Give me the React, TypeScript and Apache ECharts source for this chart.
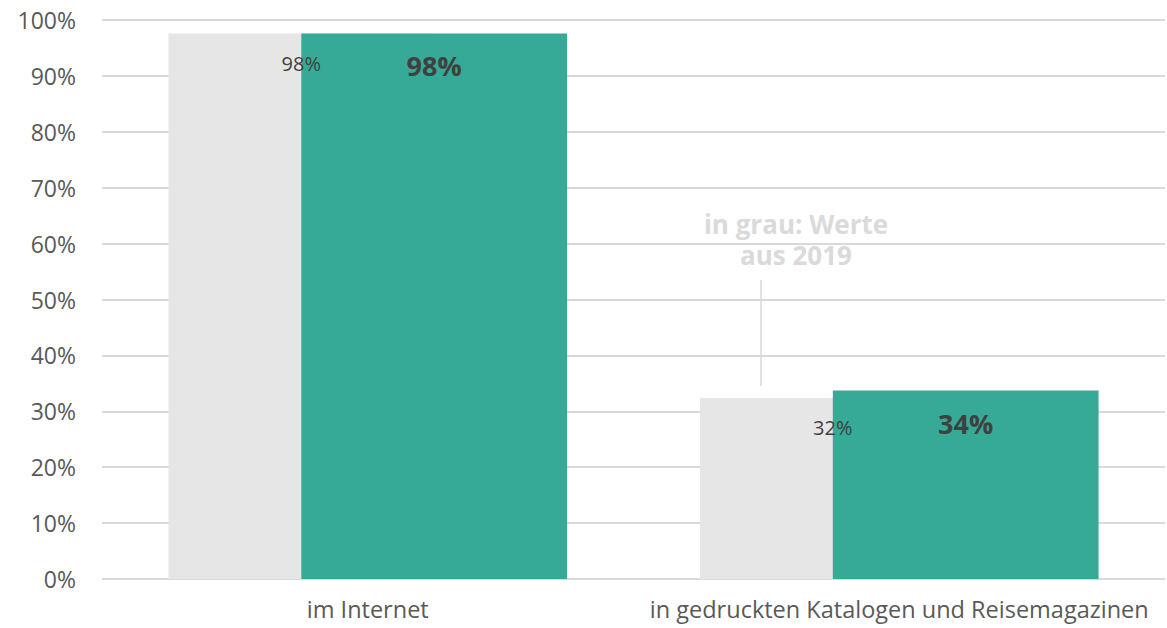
import React, { useEffect, useRef } from "react";
import * as echarts from "echarts";

const categories = ["im Internet", "in gedruckten Katalogen und Reisemagazinen"];
const values2019 = [97.6, 32.4];
const valuesNow = [97.6, 33.7];
const labelAnchor = [0, 0];
const yTicks = [0, 10, 20, 30, 40, 50, 60, 70, 80, 90, 100];
const noteLines = ["in grau: Werte", "aus 2019"];

const FONT = "'Open Sans', sans-serif";

export default function App() {
  const ref = useRef<HTMLDivElement>(null);
  useEffect(() => {
    if (!ref.current) return;
    const chart = echarts.init(ref.current, null, { renderer: "svg" });
    chart.setOption({
      animation: false,
      textStyle: { fontFamily: FONT },
      grid: { left: 102, right: 2, top: 20, bottom: 49, containLabel: false },
      xAxis: {
        type: "category",
        data: categories,
        axisLine: { show: false },
        axisTick: { show: false },
        axisLabel: {
          fontSize: 23.5,
          color: "#595959",
          fontFamily: FONT,
          margin: 18,
          interval: 0,
          hideOverlap: false,
        },
      },
      yAxis: {
        type: "value",
        min: yTicks[0],
        max: yTicks[yTicks.length - 1],
        interval: 10,
        axisLine: { show: false },
        axisTick: { show: false },
        splitLine: { lineStyle: { color: "#d9d9d9", width: 2 } },
        axisLabel: {
          fontSize: 23,
          color: "#595959",
          fontFamily: FONT,
          margin: 26,
          formatter: (v: number) => v + "%",
        },
      },
      series: [
        {
          name: "2019",
          type: "bar",
          stack: "old",
          data: values2019,
          barWidth: "50%",
          barGap: "-50%",
          itemStyle: { color: "#e6e6e6" },
          z: 1,
        },
        {
          name: "2019 label",
          type: "bar",
          stack: "old",
          data: labelAnchor,
          barWidth: "50%",
          itemStyle: { color: "rgba(0,0,0,0)" },
          z: 5,
          silent: true,
          label: {
            show: true,
            position: "insideTop",
            distance: 20,
            fontSize: 20,
            color: "#404040",
            fontFamily: FONT,
            formatter: (p: any) => Math.round(values2019[p.dataIndex]) + "%",
          },
        },
        {
          name: "2021",
          type: "bar",
          data: valuesNow,
          barWidth: "50%",
          barGap: "-50%",
          itemStyle: { color: "#36aa96" },
          z: 2,
          label: {
            show: true,
            position: "insideTop",
            distance: 19,
            fontSize: 27,
            fontWeight: "bold",
            color: "#404040",
            fontFamily: FONT,
            formatter: (p: any) => Math.round(p.value) + "%",
          },
        },
      ],
      graphic: [
        {
          type: "text",
          x: 796,
          y: 224,
          style: {
            text: noteLines[0],
            fill: "#dadada",
            font: "bold 26px 'Open Sans', sans-serif",
            align: "center",
            verticalAlign: "middle",
          },
          z: 10,
        },
        {
          type: "text",
          x: 796,
          y: 255,
          style: {
            text: noteLines[1],
            fill: "#dadada",
            font: "bold 26px 'Open Sans', sans-serif",
            align: "center",
            verticalAlign: "middle",
          },
          z: 10,
        },
        {
          type: "line",
          shape: { x1: 761, y1: 280, x2: 761, y2: 386 },
          style: { stroke: "#d9d9d9", lineWidth: 1.5 },
          z: 10,
        },
      ],
    });
    return () => chart.dispose();
  }, []);
  return (
    <div
      ref={ref}
      style={{ position: "absolute", left: 0, top: 0, width: 1167, height: 628 }}
    />
  );
}
